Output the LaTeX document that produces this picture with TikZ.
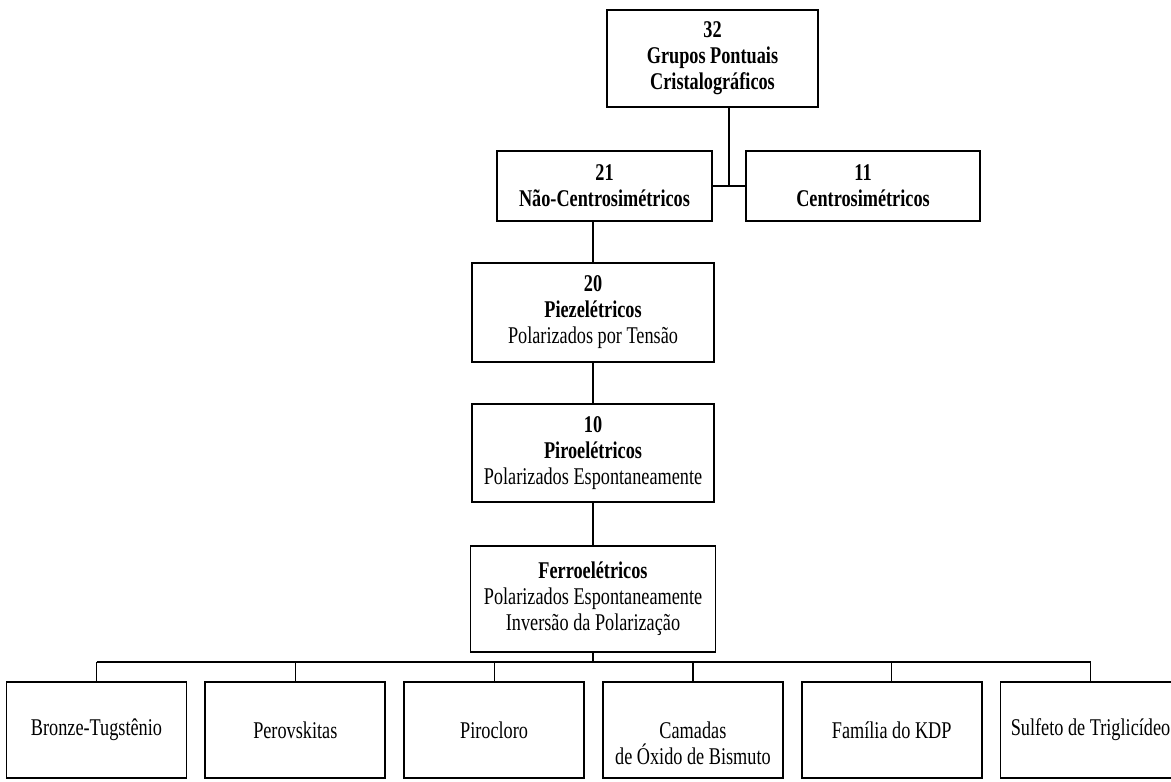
\documentclass[tikz,border=0pt]{standalone}
\usepackage{fontspec}
\setmainfont[FakeStretch=0.76]{Liberation Serif}
\usetikzlibrary{calc,positioning}

\begin{document}
\begin{tikzpicture}[
    x=0.5pt, y=-0.5pt,
    font=\fontsize{12}{13}\selectfont,
    box/.style={rectangle, draw=black, line width=0.9pt, align=center, inner sep=1.5pt},
    leaf/.style={box, minimum width=90pt, minimum height=48pt},
    link/.style={line width=0.6pt}
]
    \useasboundingbox (0,0) rectangle (1171,781);

    \node (grupos) [box, minimum width=105.5pt, minimum height=48.5pt] at (712.5,58.5) {\textbf{32}\\\textbf{Grupos Pontuais}\\\textbf{Cristalográficos}};
    \node (naocentro) [box, minimum width=107.5pt, minimum height=35pt] at (604.5,186) {\textbf{21}\\\textbf{Não-Centrosimétricos}};
    \node (centro) [box, minimum width=117pt, minimum height=35pt] at (863,186) {\textbf{11}\\\textbf{Centrosimétricos}};
    \node (piezo) [box, minimum width=121pt, minimum height=49.5pt] at (593,312.5) {\textbf{20}\\\textbf{Piezelétricos}\\Polarizados por Tensão};
    \node (piro) [box, minimum width=121pt, minimum height=49pt, below=20pt of piezo] {\textbf{10}\\\textbf{Piroelétricos}\\Polarizados Espontaneamente};
    \node (ferro) [box, minimum width=122.5pt, minimum height=53pt, below=21pt of piro] {\textbf{Ferroelétricos}\\Polarizados Espontaneamente\\Inversão da Polarização};

    \node (bronze) [leaf] at (96.5,730) {Bronze-Tugstênio};
    \node (perov) [leaf, right=8.5pt of bronze] {Perovskitas};
    \node (piroclo) [leaf, right=8.5pt of perov] {Pirocloro};
    \node (camadas) [leaf, right=8.5pt of piroclo] {};
    \node (camadastxt) [align=center] at ([yshift=-6.5pt]camadas.center) {Camadas\\de Óxido de Bismuto};
    \node (kdp) [leaf, right=8.5pt of camadas] {Família do KDP};
    \node (sulfeto) [leaf, right=8.5pt of kdp] {Sulfeto de Triglicídeo};

    % ligacoes
    \coordinate (junta) at ($(naocentro.east)!0.5!(centro.west)$);
    \draw [link] (naocentro.east) -- (centro.west);
    \draw [link] (junta) -- (junta |- grupos.south);
    \draw [link] (piezo.north) -- (piezo.north |- naocentro.south);
    \draw [link] (piezo) -- (piro);
    \draw [link] (piro) -- (ferro);

    \coordinate (bus) at (0,662);
    \draw [link] (ferro.south) -- (ferro.south |- bus);
    \draw [link] (bronze.north |- bus) -- (sulfeto.north |- bus);
    \foreach \n in {bronze,perov,piroclo,camadas,kdp,sulfeto}
        \draw [link] (\n.north) -- (\n.north |- bus);
\end{tikzpicture}
\end{document}
